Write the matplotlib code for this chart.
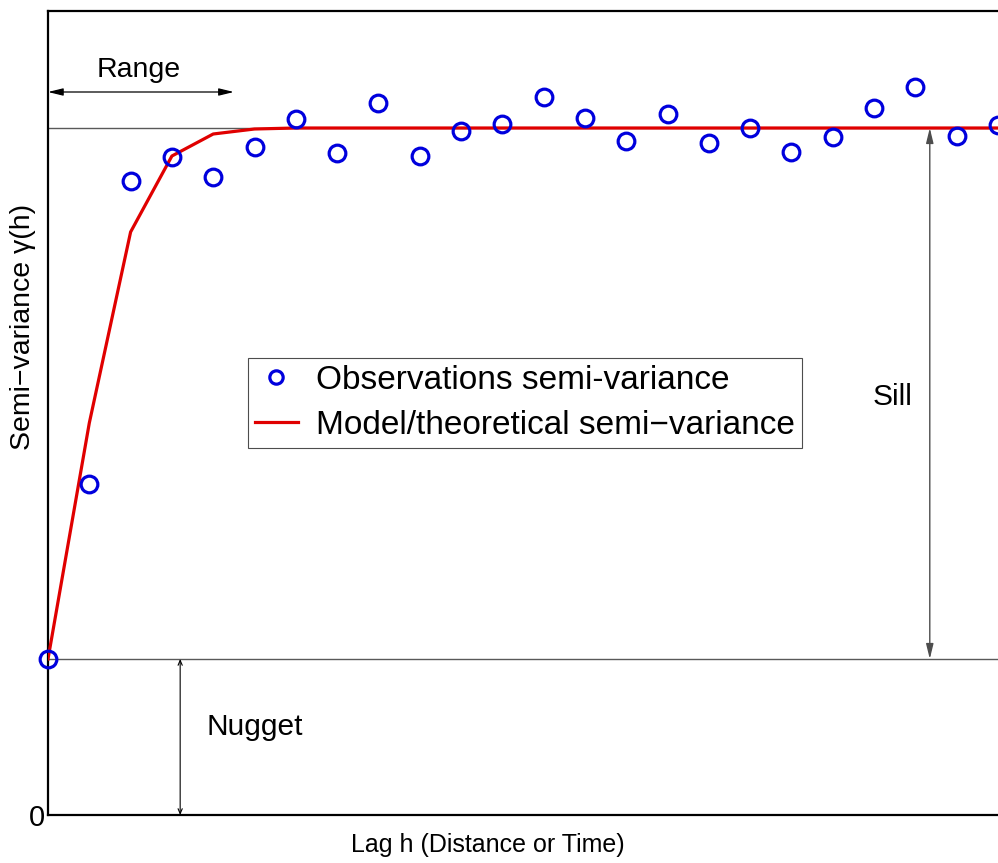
import matplotlib
matplotlib.use("Agg")
import matplotlib.pyplot as plt
import numpy as np

plt.rcParams['font.family'] = ['Liberation Sans', 'DejaVu Sans']

# lag index and values (arbitrary semi-variance units)
lags = np.arange(24)
obs_gamma = [1.56, 3.31, 6.34, 6.58, 6.38, 6.68, 6.96, 6.62, 7.12, 6.59, 6.84, 6.91,
             7.18, 6.97, 6.74, 7.01, 6.72, 6.87, 6.63, 6.78, 7.07, 7.28, 6.79, 6.90]
model_gamma = [1.56, 3.92, 5.83, 6.59, 6.81, 6.86, 6.87, 6.87, 6.87, 6.87, 6.87, 6.87,
               6.87, 6.87, 6.87, 6.87, 6.87, 6.87, 6.87, 6.87, 6.87, 6.87, 6.87, 6.87]
nugget = 1.56
sill = 6.87
range_lag = 4.5

fig = plt.figure(figsize=(9.98, 8.63), dpi=100)
ax = fig.add_axes([48 / 998, 48 / 863, 952 / 998, 804 / 863])

ax.axhline(nugget, color='0.35', lw=1)
ax.axhline(sill, color='0.35', lw=1)

ax.plot(lags, model_gamma, color='#e00000', lw=2.3, zorder=3,
        label='Model/theoretical semi\u2212variance')
ax.plot(lags, obs_gamma, linestyle='none', marker='o', markersize=12,
        markerfacecolor='none', markeredgecolor='#0000dd', markeredgewidth=2.3,
        zorder=4, clip_on=False, label='Observations semi-variance')

# annotations
ax.annotate('', xy=(0, 7.23), xytext=(range_lag, 7.23),
            arrowprops=dict(arrowstyle='<|-|>,head_length=0.9,head_width=0.22',
                            color='black', lw=0.9, shrinkA=0, shrinkB=0))
ax.text(range_lag / 2 - 0.05, 7.45, 'Range', fontsize=20.5, ha='center', va='center')

ax.annotate('', xy=(3.2, 0), xytext=(3.2, nugget),
            arrowprops=dict(arrowstyle='<->,head_length=0.35,head_width=0.15',
                            color='black', lw=0.8, shrinkA=0, shrinkB=0))
ax.text(3.83, 0.88, 'Nugget', fontsize=21.5, ha='left', va='center')

ax.annotate('', xy=(21.35, nugget), xytext=(21.35, sill),
            arrowprops=dict(arrowstyle='<|-|>,head_length=0.9,head_width=0.22',
                            color='0.3', lw=1.0, shrinkA=0, shrinkB=0))
ax.text(20.45, 4.18, 'Sill', fontsize=21.5, ha='center', va='center')

ax.set_xlim(0, 23.05)
ax.set_ylim(0, 8.04)
ax.set_xticks([])
ax.set_yticks([0])
ax.tick_params(axis='y', length=0, labelsize=21, pad=2)

for side in ['left', 'bottom', 'top']:
    ax.spines[side].set_linewidth(1.6)
ax.spines['right'].set_visible(False)

ax.set_xlabel('Lag h (Distance or Time)', fontsize=18)
ax.xaxis.set_label_coords((488 - 48) / 952, -18 / 804)
ax.set_ylabel('Semi\u2212variance \u03b3(h)', fontsize=20.5)
ax.yaxis.set_label_coords(-12 / 952, (815 - 327) / 804)

handles, labels = ax.get_legend_handles_labels()
leg = ax.legend(handles[::-1], labels[::-1], loc='upper left',
                bbox_to_anchor=(0.21, 0.568), borderaxespad=0, fontsize=24,
                fancybox=False, framealpha=1, edgecolor='0.3', handlelength=1.3,
                handletextpad=0.55, borderpad=0.2, labelspacing=0.42, markerscale=0.8)
leg.get_frame().set_linewidth(0.8)

fig.savefig('out.png', dpi=100)
